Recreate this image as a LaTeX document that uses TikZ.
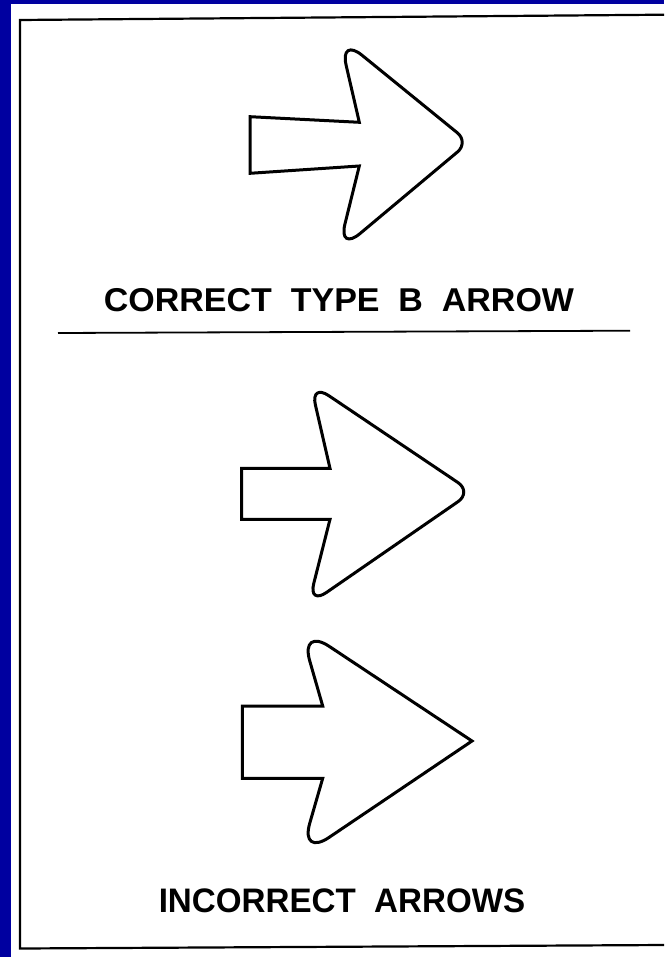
\documentclass[tikz,border=0pt]{standalone}
\usepackage{fontspec}
\setmainfont{Liberation Sans}
\usetikzlibrary{calc}
\definecolor{bgblue}{RGB}{0,0,160}
\newcommand\rcorner[4]{-- ($(#2)!#4!(#1)$) .. controls ($(#2)!0.45*#4!(#1)$) and ($(#2)!0.45*#4!(#3)$) .. ($(#2)!#4!(#3)$)}
\tikzset{
  arrowline/.style={draw=black, line width=3pt, line join=miter, fill=white},
  frameline/.style={draw=black, line width=2.2pt},
  sepline/.style={draw=black, line width=1.8pt},
  caption/.style={font=\bfseries, anchor=base, inner sep=0pt, text=black}
}
\begin{document}
\begin{tikzpicture}[x=1pt, y=-1pt]
\useasboundingbox (0,0) rectangle (664,957);
\fill[bgblue] (0,0) rectangle (664,957);
\fill[white] (11,4) rectangle (664,957);
% frame
\coordinate (fTL) at (20,20);
\coordinate (fTR) at (664,14.7);
\coordinate (fBL) at (20,948.5);
\coordinate (fBR) at (664,945);
\draw[frameline] (fTR) -- (fTL) -- (fBL) -- (fBR);
% separator
\coordinate (sL) at (58,333);
\coordinate (sR) at (630,330.7);
\draw[sepline] (sL) -- (sR);
% arrow 1 (correct)
\coordinate (a1TL) at (250,116.7);
\coordinate (a1TJ) at (359.3,122.3);
\coordinate (a1Top) at (339.6,37);
\coordinate (a1Tip) at (469,142.3);
\coordinate (a1Bot) at (338,252);
\coordinate (a1BJ) at (359.3,166);
\coordinate (a1BL) at (250,173.3);
\draw[arrowline] (a1TL) -- (a1TJ) \rcorner{a1TJ}{a1Top}{a1Tip}{29pt} \rcorner{a1Top}{a1Tip}{a1Bot}{15pt} \rcorner{a1Tip}{a1Bot}{a1BJ}{29pt} -- (a1BJ) -- (a1BL) -- cycle;
% arrow 2
\coordinate (a2TL) at (241.7,468.3);
\coordinate (a2TJ) at (330,468.3);
\coordinate (a2Top) at (310.4,383.3);
\coordinate (a2Tip) at (472,492);
\coordinate (a2Bot) at (308.3,605);
\coordinate (a2BJ) at (330,519.3);
\coordinate (a2BL) at (241.7,519.3);
\draw[arrowline] (a2TL) -- (a2TJ) \rcorner{a2TJ}{a2Top}{a2Tip}{22pt} \rcorner{a2Top}{a2Tip}{a2Bot}{17pt} \rcorner{a2Tip}{a2Bot}{a2BJ}{22pt} -- (a2BJ) -- (a2BL) -- cycle;
% arrow 3
\coordinate (a3TL) at (242.3,706);
\coordinate (a3TJ) at (322.7,706);
\coordinate (a3Top) at (300,627);
\coordinate (a3Tip) at (472,741);
\coordinate (a3Bot) at (300,857);
\coordinate (a3BJ) at (322.7,778.3);
\coordinate (a3BL) at (242.3,778.3);
\draw[arrowline] (a3TL) -- (a3TJ) \rcorner{a3TJ}{a3Top}{a3Tip}{35pt} -- (a3Tip) \rcorner{a3Tip}{a3Bot}{a3BJ}{35pt} -- (a3BJ) -- (a3BL) -- cycle;
% captions
\node[caption, font=\bfseries\fontsize{33}{33}\selectfont] (t1) at (339,311.7) {\scalebox{1.03}[1]{CORRECT\ \ TYPE\ \ B\ \ ARROW}};
\node[caption, font=\bfseries\fontsize{34}{34}\selectfont] (t2) at (342,912) {\scalebox{0.975}[1]{INCORRECT\ \ ARROWS}};
\end{tikzpicture}
\end{document}
